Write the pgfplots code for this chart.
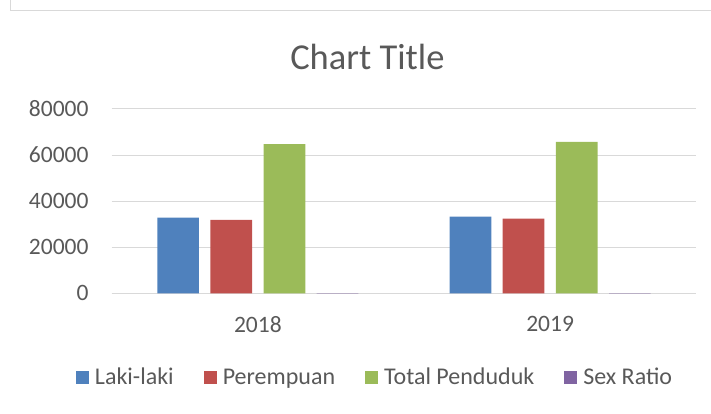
\documentclass[border=0pt]{standalone}
\usepackage{pgfplots}
\pgfplotsset{compat=1.18}
\usepackage{fontspec}
\setmainfont{Carlito}
\definecolor{cBlue}{HTML}{4F81BD}
\definecolor{cRed}{HTML}{C0504D}
\definecolor{cGreen}{HTML}{9BBB59}
\definecolor{cPurple}{HTML}{8064A2}
\definecolor{cGrid}{HTML}{D9D9D9}
\definecolor{cText}{HTML}{595959}
\begin{document}
\begin{tikzpicture}[x=1pt,y=1pt]
\path[use as bounding box] (0,0) rectangle (711,413);
\draw[cGrid,line width=1.2pt] (10.5,413) -- (10.5,402.5) -- (711,402.5);
\node[anchor=base,text=cText,font=\fontsize{36.5}{40}\selectfont,inner sep=0pt] at (367.4,343) {Chart Title};
\begin{axis}[
  at={(111.7pt,119.7pt)}, anchor=south west,
  scale only axis, width=584.6pt, height=184.4pt,
  xmin=-0.5, xmax=1.5, ymin=0, ymax=80000,
  xtick={0,1}, xticklabels={2018,2019},
  ytick={0,20000,40000,60000,80000},
  scaled y ticks=false,
  axis line style={draw=none},
  major tick length=0pt,
  ymajorgrids, grid style={cGrid,line width=1pt},
  extra y ticks={0}, extra y tick style={grid style={cGrid,line width=1.3pt}, yticklabel=\empty},
  /pgf/number format/1000 sep={},
  /pgf/number format/assume math mode=true,
  tick label style={text=cText,font=\fontsize{23.5}{26}\selectfont,inner sep=0pt},
  yticklabel style={anchor=east,xshift=-23pt},
  xticklabel style={anchor=north,yshift=-23pt},
  ybar, bar width=0.1427,
  legend columns=4,
  legend style={at={(-0.0611,-0.455)}, anchor=west, draw=none, fill=none,
    inner sep=0pt, outer sep=0pt,
    font=\fontsize{24}{26}\selectfont, text=cText,
    nodes={inner sep=0pt, anchor=west},
    /tikz/every odd column/.append style={column sep=6pt},
    /tikz/every even column/.append style={column sep=30pt}},
  legend image code/.code={\fill[#1,draw=none] (0pt,-6.5pt) rectangle (13pt,6.5pt);},
]
\addplot[fill=cBlue,draw=none,bar shift=-0.2727] coordinates {(0,32800) (1,33300)};
\addplot[fill=cRed,draw=none,bar shift=-0.0909] coordinates {(0,31900) (1,32400)};
\addplot[fill=cGreen,draw=none,bar shift=0.0909] coordinates {(0,64700) (1,65700)};
\addplot[fill=cPurple,draw=none,bar shift=0.2727] coordinates {(0,102.5) (1,102.8)};
\legend{Laki-laki,Perempuan,Total Penduduk,Sex Ratio}
\end{axis}
\end{tikzpicture}
\end{document}
